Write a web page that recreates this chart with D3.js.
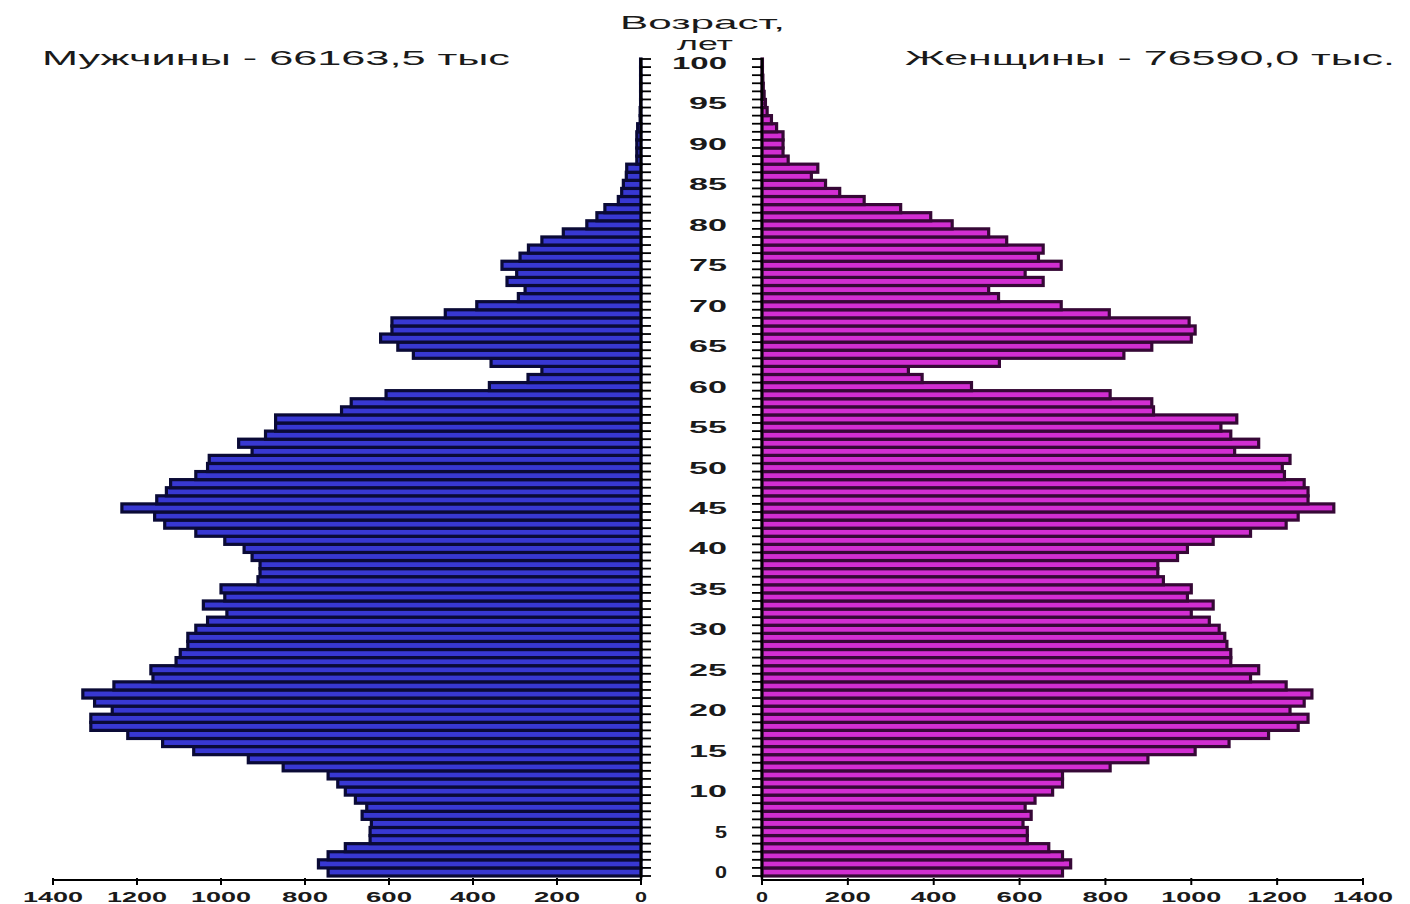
<!DOCTYPE html>
<html><head><meta charset="utf-8">
<script src="https://cdn.jsdelivr.net/npm/d3@7"></script>
<style>body{margin:0;background:#fff} svg{display:block}</style>
</head><body><svg id="c" width="1410" height="904"></svg>
<script>
// ---- data (ages 0..100, thousands of people) ----
const ages = d3.range(0, 101);
const men = [
 745,768,745,704,645,645,642,664,653,680,
 704,722,745,852,935,1065,1139,1222,1310,1310,
 1259,1301,1329,1255,1162,1167,1107,1097,1079,1079,
 1060,1032,986,1042,991,1000,912,907,907,926,
 945,991,1060,1134,1158,1236,1153,1130,1120,1060,
 1032,1028,926,958,894,870,870,713,690,607,
 361,269,236,357,542,579,620,593,593,466,
 391,292,276,319,296,331,288,268,236,185,
 129,105,86,54,46,42,35,34,10,10,
 10,10,8,2,2,1,1,1,1,1,1];
const women = [
 700,719,700,668,618,618,608,627,613,636,
 677,700,700,811,899,1009,1088,1180,1249,1272,
 1230,1263,1281,1221,1138,1157,1092,1092,1083,1078,
 1065,1042,1000,1051,991,1000,935,922,922,968,
 991,1051,1138,1221,1249,1332,1272,1272,1263,1217,
 1212,1230,1101,1157,1092,1069,1106,912,908,811,
 488,373,341,553,843,908,1000,1009,995,809,
 697,551,528,655,613,697,644,655,570,528,
 443,393,323,238,181,148,115,130,61,49,
 49,49,34,22,12,8,5,3,2,1,1];
const xTickValues = [0,200,400,600,800,1000,1200,1400];
const ageTickLabels = [0,5,10,15,20,25,30,35,40,45,50,55,60,65,70,75,80,85,90,95,100];
const titleMen = "Мужчины - 66163,5 тыс";
const titleWomen = "Женщины - 76590,0 тыс.";
const axisTitle = ["Возраст,", "лет"];

// ---- drawing ----
const FONT = "'Liberation Sans', Arial, sans-serif";
const svg = d3.select("#c");
const y = d3.scaleBand().domain(ages.slice().reverse()).range([59, 876]).padding(0);
const bw = y.bandwidth();
const xL = d3.scaleLinear().domain([0, 1400]).range([641, 53]);
const xR = d3.scaleLinear().domain([0, 1400]).range([762, 1363]);

// bars
svg.append("g").selectAll("rect").data(ages).join("rect")
  .attr("x", a => xL(men[a])).attr("width", a => xL(0) - xL(men[a]))
  .attr("y", a => y(a)).attr("height", bw)
  .attr("fill", "#3838d2").attr("stroke", "#0a0a36").attr("stroke-width", 3.2);
svg.append("g").selectAll("rect").data(ages).join("rect")
  .attr("x", xR(0)).attr("width", a => xR(women[a]) - xR(0))
  .attr("y", a => y(a)).attr("height", bw)
  .attr("fill", "#d22ed2").attr("stroke", "#360836").attr("stroke-width", 3.2);

// vertical axes
const yTop = 58, yBot = 880;
const boundaries = ages.map(a => y(a)).concat([y(0) + bw]);
[[xL(0), 1], [xR(0), -1]].forEach(([x0, dir]) => {
  const g = svg.append("g");
  g.append("line").attr("x1", x0).attr("x2", x0).attr("y1", yTop).attr("y2", yBot)
    .attr("stroke", "#000").attr("stroke-width", 2.4);
  g.selectAll("line.t").data(boundaries).join("line").attr("class", "t")
    .attr("x1", x0).attr("x2", x0 + dir * 10).attr("y1", d => d).attr("y2", d => d)
    .attr("stroke", "#000").attr("stroke-width", 1.8);
});

// age labels
const digitW = {1: 12, 2: 38, 3: 55};
svg.append("g").selectAll("text").data(ageTickLabels).join("text")
  .attr("x", a => 727 - digitW[String(a).length])
  .attr("y", a => y(a) + bw / 2 + 6)
  .attr("textLength", a => digitW[String(a).length])
  .attr("lengthAdjust", "spacingAndGlyphs")
  .attr("font-family", FONT).attr("font-size", 17).attr("font-weight", "bold")
  .attr("fill", "#1a1a1a").text(a => a);

// bottom axes
function bottomAxis(scale) {
  const g = svg.append("g");
  const r = scale.range();
  g.append("line").attr("x1", Math.min(...r)).attr("x2", Math.max(...r))
    .attr("y1", yBot).attr("y2", yBot).attr("stroke", "#000").attr("stroke-width", 2);
  g.selectAll("line.t").data(xTickValues).join("line").attr("class", "t")
    .attr("x1", d => scale(d)).attr("x2", d => scale(d))
    .attr("y1", yBot - 2).attr("y2", yBot + 5).attr("stroke", "#000").attr("stroke-width", 2);
  const tw = d => String(d).length === 1 ? 12 : String(d).length === 3 ? 46 : 60;
  g.selectAll("text").data(xTickValues).join("text")
    .attr("x", d => scale(d) - tw(d) / 2).attr("y", 902)
    .attr("textLength", tw).attr("lengthAdjust", "spacingAndGlyphs")
    .attr("font-family", FONT).attr("font-size", 14).attr("font-weight", "bold")
    .attr("fill", "#1a1a1a").text(d => d);
}
bottomAxis(xL);
bottomAxis(xR);

// titles
function stretched(txt, x, yb, w, size) {
  svg.append("text").attr("x", x).attr("y", yb)
    .attr("textLength", w).attr("lengthAdjust", "spacingAndGlyphs")
    .attr("font-family", FONT).attr("font-size", size)
    .attr("fill", "#1a1a1a").text(txt);
}
stretched(titleMen, 42, 65, 468, 21);
stretched(titleWomen, 905, 65, 490, 21);
stretched(axisTitle[0], 620, 29, 165, 19);
stretched(axisTitle[1], 677, 50, 56, 19);
</script></body></html>
